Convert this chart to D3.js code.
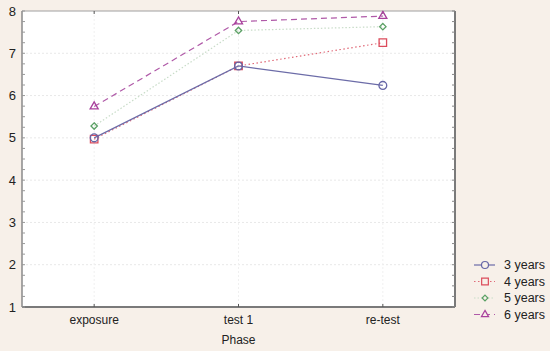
<!DOCTYPE html>
<html>
<head>
<meta charset="utf-8">
<script src="https://cdn.jsdelivr.net/npm/d3@7"></script>
<style>
  body { margin: 0; background: #f7f0e9; }
  svg { display: block; font-family: Arial, "Liberation Sans", sans-serif; }
</style>
</head>
<body>
<svg id="chart" width="550" height="351"></svg>
<script>
// data
var phases = ['exposure', 'test 1', 're-test'];
var seriesNames = ['3 years', '4 years', '5 years', '6 years'];
var years3 = [5.0, 6.70, 6.24];
var years4 = [4.97, 6.70, 7.25];
var years5 = [5.28, 7.54, 7.63];
var years6 = [5.74, 7.75, 7.88];
var yTicks = [1, 2, 3, 4, 5, 6, 7, 8];

var series = [
  { name: seriesNames[0], values: years3, color: '#6666a6', line: '#6c6ca8', dash: null, symbol: d3.symbolCircle },
  { name: seriesNames[1], values: years4, color: '#dc4c5c', line: '#e06a78', dash: '1.5,2.5', symbol: d3.symbolSquare },
  { name: seriesNames[2], values: years5, color: '#5aa064', line: '#c8dcc8', dash: '1.5,2', symbol: d3.symbolDiamond2 },
  { name: seriesNames[3], values: years6, color: '#a8409c', line: '#b05aa8', dash: '6,4', symbol: d3.symbolTriangle }
];

var svg = d3.select('#chart');
var margin = { left: 22, top: 11, right: 95, bottom: 44 };
var W = 550, H = 351;

var x = d3.scalePoint()
  .domain(phases)
  .range([margin.left, W - margin.right])
  .padding(0.5);

var y = d3.scaleLinear()
  .domain([1, 8])
  .range([H - margin.bottom, margin.top]);

// plot background
svg.append('rect')
  .attr('x', margin.left)
  .attr('y', margin.top)
  .attr('width', W - margin.right - margin.left)
  .attr('height', H - margin.bottom - margin.top)
  .attr('fill', '#ffffff');

// grid
svg.append('g')
  .selectAll('line')
  .data(yTicks.slice(1, -1))
  .join('line')
  .attr('x1', margin.left).attr('x2', W - margin.right)
  .attr('y1', function (d) { return y(d); })
  .attr('y2', function (d) { return y(d); })
  .attr('stroke', '#e8e8e8')
  .attr('stroke-dasharray', '2,2');

svg.append('g')
  .selectAll('line')
  .data(phases)
  .join('line')
  .attr('x1', function (d) { return x(d); })
  .attr('x2', function (d) { return x(d); })
  .attr('y1', margin.top).attr('y2', H - margin.bottom)
  .attr('stroke', '#f0f0f0')
  .attr('stroke-dasharray', '2,2');

// frame
var frame = svg.append('g');
frame.append('line')
  .attr('x1', margin.left).attr('x2', W - margin.right)
  .attr('y1', margin.top).attr('y2', margin.top)
  .attr('stroke', '#a0a0a0');
frame.append('line')
  .attr('x1', margin.left).attr('x2', margin.left)
  .attr('y1', margin.top).attr('y2', H - margin.bottom)
  .attr('stroke', '#8a8a8a').attr('stroke-width', 1.5);
frame.append('line')
  .attr('x1', W - margin.right).attr('x2', W - margin.right)
  .attr('y1', margin.top).attr('y2', H - margin.bottom)
  .attr('stroke', '#7a7a7a').attr('stroke-width', 2);
frame.append('line')
  .attr('x1', margin.left).attr('x2', W - margin.right)
  .attr('y1', H - margin.bottom).attr('y2', H - margin.bottom)
  .attr('stroke', '#7a7a7a').attr('stroke-width', 2);

// minor ticks left and right
var minor = d3.range(1, 8.01, 0.25);
frame.append('g')
  .selectAll('line')
  .data(minor)
  .join('line')
  .attr('x1', margin.left).attr('x2', margin.left + 3)
  .attr('y1', function (d) { return y(d); })
  .attr('y2', function (d) { return y(d); })
  .attr('stroke', '#999');
frame.append('g')
  .selectAll('line')
  .data(minor)
  .join('line')
  .attr('x1', W - margin.right - 3).attr('x2', W - margin.right)
  .attr('y1', function (d) { return y(d); })
  .attr('y2', function (d) { return y(d); })
  .attr('stroke', '#888');

// category ticks
frame.append('g')
  .selectAll('line')
  .data(phases)
  .join('line')
  .attr('x1', function (d) { return x(d); })
  .attr('x2', function (d) { return x(d); })
  .attr('y1', H - margin.bottom - 3).attr('y2', H - margin.bottom)
  .attr('stroke', '#555');
frame.append('g')
  .selectAll('line')
  .data(phases)
  .join('line')
  .attr('x1', function (d) { return x(d); })
  .attr('x2', function (d) { return x(d); })
  .attr('y1', margin.top).attr('y2', margin.top + 3)
  .attr('stroke', '#555');

// y labels
svg.append('g')
  .selectAll('text')
  .data(yTicks)
  .join('text')
  .attr('x', 16)
  .attr('y', function (d) { return y(d); })
  .attr('dy', '0.35em')
  .attr('text-anchor', 'end')
  .style('font-size', '13px')
  .attr('fill', '#222')
  .text(function (d) { return d; });

// x labels
svg.append('g')
  .selectAll('text')
  .data(phases)
  .join('text')
  .attr('x', function (d) { return x(d); })
  .attr('y', 324)
  .attr('text-anchor', 'middle')
  .style('font-size', '12px')
  .attr('fill', '#222')
  .text(function (d) { return d; });

svg.append('text')
  .attr('x', x('test 1'))
  .attr('y', 344)
  .attr('text-anchor', 'middle')
  .style('font-size', '12px')
  .attr('fill', '#222')
  .text('Phase');

// lines
var line = d3.line()
  .x(function (d, i) { return x(phases[i]); })
  .y(function (d) { return y(d); });

var sg = svg.append('g')
  .selectAll('g.series')
  .data(series.slice().reverse())
  .join('g')
  .attr('class', 'series');

sg.append('path')
  .attr('d', function (s) { return line(s.values); })
  .attr('fill', 'none')
  .attr('stroke', function (s) { return s.line; })
  .attr('stroke-width', 1.2)
  .attr('stroke-dasharray', function (s) { return s.dash; });

function symbolSize(s) {
  if (s.symbol === d3.symbolSquare) return 56;
  if (s.symbol === d3.symbolTriangle) return 28;
  if (s.symbol === d3.symbolDiamond2) return 26;
  return 48;
}

sg.selectAll('path.pt')
  .data(function (s) {
    return s.values.map(function (v, i) { return { s: s, v: v, i: i }; });
  })
  .join('path')
  .attr('class', 'pt')
  .attr('transform', function (d) {
    return 'translate(' + x(phases[d.i]) + ',' + y(d.v) + ')';
  })
  .attr('d', function (d) { return d3.symbol(d.s.symbol, symbolSize(d.s))(); })
  .attr('fill', 'none')
  .attr('stroke', function (d) { return d.s.color; })
  .attr('stroke-width', 1.3);

// legend
var legend = svg.append('g')
  .selectAll('g')
  .data(series)
  .join('g')
  .attr('transform', function (d, i) {
    return 'translate(474,' + (265 + i * 16.5) + ')';
  });

legend.append('line')
  .attr('x1', 0).attr('x2', 21)
  .attr('stroke', function (s) { return s.line; })
  .attr('stroke-width', 1.2)
  .attr('stroke-dasharray', function (s) { return s.dash; });

legend.append('path')
  .attr('transform', 'translate(11,0)')
  .attr('d', function (s) { return d3.symbol(s.symbol, symbolSize(s) * 0.8)(); })
  .attr('fill', '#f7f0e9')
  .attr('stroke', function (s) { return s.color; })
  .attr('stroke-width', 1.2);

legend.append('text')
  .attr('x', 30)
  .attr('dy', '0.35em')
  .style('font-size', '12.5px')
  .attr('fill', '#222')
  .text(function (s) { return s.name; });
</script>
</body>
</html>
